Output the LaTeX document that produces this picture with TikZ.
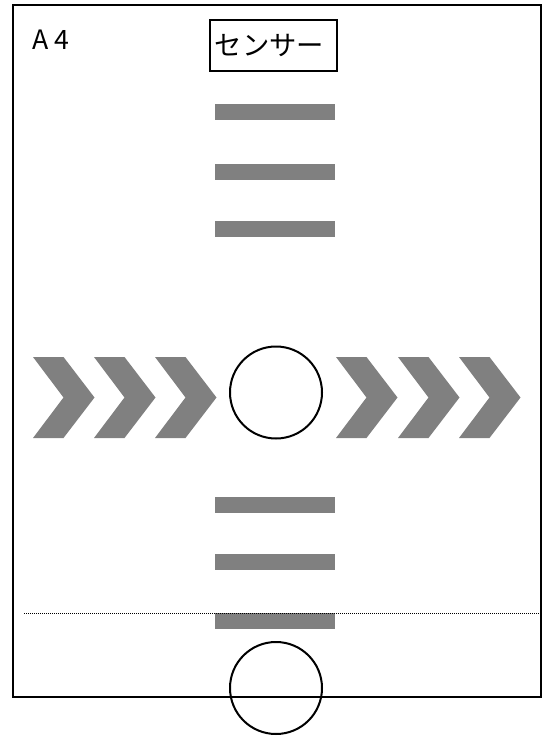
\documentclass[tikz,border=0pt]{standalone}
\usepackage{fontspec}
\newfontfamily\jpfont{Noto Sans CJK JP}
\newfontfamily\labelfont[LetterSpace=22]{Noto Sans CJK JP}
\definecolor{bargray}{HTML}{808080}

\begin{document}
\begin{tikzpicture}[x=0.75pt,y=-0.75pt,
  frame/.style={line width=1.5pt},
  bar/.style={fill=bargray},
  chevron/.style={fill=bargray},
  ball/.style={draw,circle,line width=1.5pt,minimum size=69pt,inner sep=0pt}]
\useasboundingbox (0,0) rectangle (545,736);
\fill[white] (0,0) rectangle (545,736);
\draw[frame] (13,5) rectangle (541,697);
\node[anchor=west,inner sep=0pt,font=\labelfont\fontsize{20}{22}\selectfont] (paper) at (32,39.5) {A4};
\node[draw,line width=1.5pt,anchor=west,text width=88.5pt,align=left,minimum height=38pt,inner xsep=3.5pt,inner ysep=0pt,font=\jpfont\fontsize{20.5}{22}\selectfont] (sensor) at (209,45.5) {センサー};
\foreach \y in {104,164,221,497,554,613}
  \fill[bar] (215,\y) rectangle (335,\y+15.5);
\foreach \x in {33,94,155,336,398,459}
  \fill[chevron] (\x,357) -- (\x+30.5,357) -- (\x+61.5,397.5) -- (\x+30.5,438) -- (\x,438) -- (\x+30.5,397.5) -- cycle;
\draw[line width=0.6pt,dash pattern=on 0.75pt off 0.75pt] (24,613) -- (541,613);
\node[ball] (ball) at (276,392.5) {};
\node[ball] (goal) at (276,688) {};
\end{tikzpicture}
\end{document}
